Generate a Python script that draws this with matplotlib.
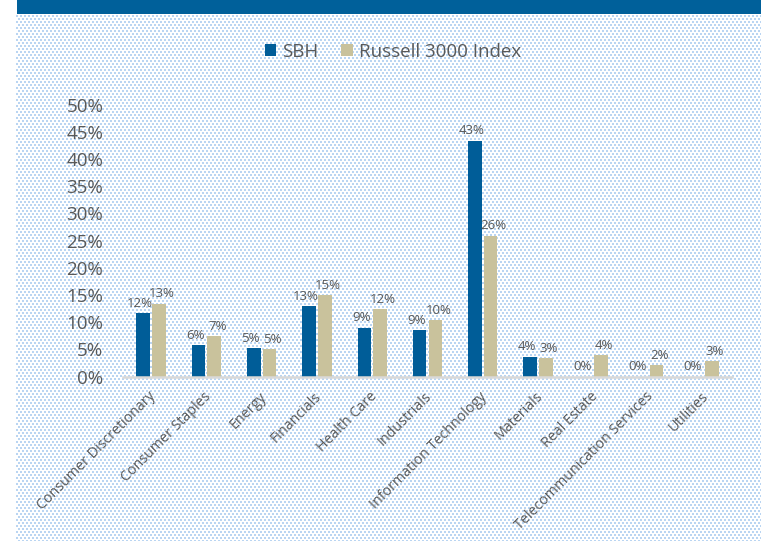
import numpy as np
import matplotlib
matplotlib.use("Agg")
import matplotlib.pyplot as plt
import matplotlib.transforms as mtransforms
from matplotlib.patches import Rectangle

categories = ["Consumer Discretionary", "Consumer Staples", "Energy", "Financials",
              "Health Care", "Industrials", "Information Technology", "Materials",
              "Real Estate", "Telecommunication Services", "Utilities"]
sbh = [11.7, 5.8, 5.2, 13.0, 9.0, 8.6, 43.4, 3.7, 0.0, 0.0, 0.0]
russell = [13.4, 7.4, 5.1, 15.0, 12.4, 10.4, 25.9, 3.4, 3.9, 2.1, 2.9]
yticks = [0, 5, 10, 15, 20, 25, 30, 35, 40, 45, 50]
series_names = ["SBH", "Russell 3000 Index"]

C_SBH = "#005D98"
C_RUS = "#C9C29C"
C_TXT = "#595959"
FONT = ["Open Sans", "DejaVu Sans"]
plt.rcParams["font.family"] = FONT

W, H = 761, 541
fig = plt.figure(figsize=(W / 100, H / 100), dpi=100)
fig.patch.set_facecolor("white")

# dotted background pattern
bx0, by_top = 16, 15
pw, ph = W - bx0, H - by_top
pat = np.ones((ph, pw, 3))
yy, xx = np.mgrid[0:ph, 0:pw]
row = yy // 3
dots = ((yy % 3) < 2) & (((xx + 2 * (row % 2)) % 4) < 2)
dot_col = np.array([186, 213, 242]) / 255.0
pat[dots] = dot_col
fig.figimage(pat, xo=bx0, yo=0, zorder=-5)

# top banner
fig.patches.append(Rectangle((17 / W, 1 - 14 / H), 1 - 17 / W, 14 / H,
                             transform=fig.transFigure, facecolor="#00609A",
                             edgecolor="none", zorder=1))

ax_left, ax_right = 123.4, 731.6
ax_bottom_px, ax_top_px = 376.7, 104.7
ax = fig.add_axes([ax_left / W, 1 - ax_bottom_px / H,
                   (ax_right - ax_left) / W, (ax_bottom_px - ax_top_px) / H])
ax.patch.set_alpha(0)
ax.set_zorder(5)

x = np.arange(len(categories))
bw = 0.245
off = 0.142
b1 = ax.bar(x - off, sbh, bw, color=C_SBH, label=series_names[0], zorder=3)
b2 = ax.bar(x + off, russell, bw, color=C_RUS, label=series_names[1], zorder=3)

ax.set_xlim(-0.5, len(categories) - 0.5)
ax.set_ylim(0, 50)
ax.set_yticks(yticks)
ax.set_yticklabels([f"{v}%" for v in yticks], fontsize=13.5, color=C_TXT)
ax.tick_params(axis="y", length=0, pad=14.5)
ax.tick_params(axis="x", length=0, pad=9)
for s in ["top", "right", "left"]:
    ax.spines[s].set_visible(False)
ax.spines["bottom"].set_color("#D9D9D9")
ax.spines["bottom"].set_linewidth(1.8)
ax.spines["bottom"].set_zorder(4)

ax.set_xticks(x)
ax.set_xticklabels(categories, rotation=45, ha="right", rotation_mode="anchor",
                   fontsize=10.3, color=C_TXT)
shift = mtransforms.ScaledTranslation(-3 / 100, 0, fig.dpi_scale_trans)
for lab in ax.get_xticklabels():
    lab.set_transform(lab.get_transform() + shift)

for xi, v in zip(x, sbh):
    ax.annotate(f"{v:.0f}%", (xi - off, v), xytext=(-2.2, 4.6), textcoords="offset points",
                ha="center", va="baseline", fontsize=9.5, color=C_TXT, clip_on=False)
for xi, v in zip(x, russell):
    ax.annotate(f"{v:.0f}%", (xi + off, v), xytext=(2.2, 4.6), textcoords="offset points",
                ha="center", va="baseline", fontsize=9.5, color=C_TXT, clip_on=False)

leg = fig.legend(handles=[b1, b2], labels=series_names, loc="center",
                 bbox_to_anchor=(393 / W, 1 - 52 / H), ncol=2, frameon=False,
                 fontsize=13.5, handlelength=0.6, handleheight=0.6,
                 handletextpad=0.33, columnspacing=1.2, labelcolor=C_TXT)

fig.savefig("out.png", dpi=100)
